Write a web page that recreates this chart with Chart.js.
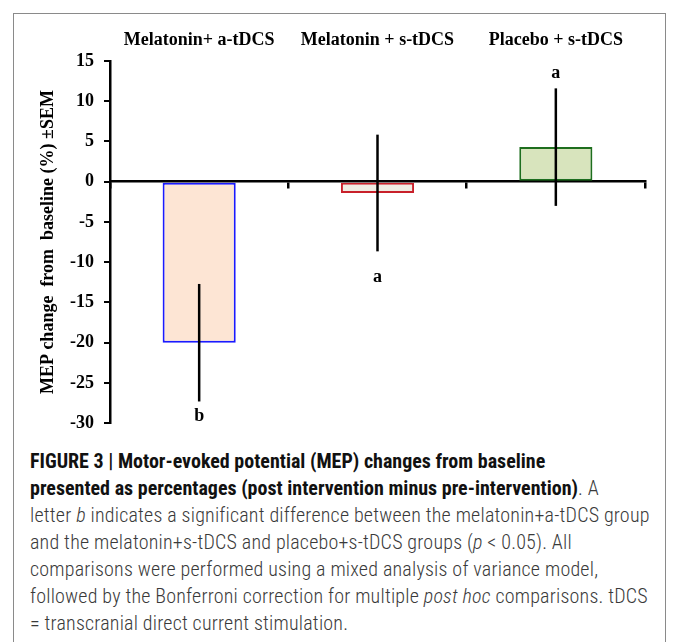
<!DOCTYPE html>
<html>
<head>
<meta charset="utf-8">
<script src="https://cdn.jsdelivr.net/npm/chart.js@4.4.1/dist/chart.umd.min.js"></script>
<style>
  html, body { margin: 0; padding: 0; background: #fff; }
  body { width: 673px; height: 642px; position: relative; overflow: hidden; }
  .frame {
    position: absolute; left: 13px; top: 13px; width: 653px; height: 660px;
    border: 1px solid #8a8a8a; box-sizing: border-box;
  }
  .chart-box { position: absolute; left: 14px; top: 14px; width: 652px; height: 430px; }
  .caption {
    position: absolute; left: 30px; top: 448px;
    font-family: "Liberation Sans Narrow", "Arial Narrow", "Roboto Condensed", "Liberation Sans", sans-serif;
    font-size: 20px; line-height: 27px; color: #3a3a3a; white-space: nowrap;
    font-weight: 300; letter-spacing: 0.2px;
  }
  .caption b { color: #111; font-weight: bold; letter-spacing: 0; }
</style>
</head>
<body>
<div class="frame"></div>
<div class="chart-box"><canvas id="mep-chart"></canvas></div>
<div class="caption">
  <b>FIGURE 3 | Motor-evoked potential (MEP) changes from baseline</b><br>
  <b>presented as percentages (post intervention minus pre-intervention)</b>. A<br>
  letter <i>b</i> indicates a significant difference between the melatonin+a-tDCS group<br>
  and the melatonin+s-tDCS and placebo+s-tDCS groups (<i>p</i> &lt; 0.05). All<br>
  comparisons were performed using a mixed analysis of variance model,<br>
  followed by the Bonferroni correction for multiple <i>post hoc</i> comparisons. tDCS<br>
  = transcranial direct current stimulation.
</div>
<script>
// nhóm can thiệp
const groups = ["Melatonin+ a-tDCS", "Melatonin + s-tDCS", "Placebo + s-tDCS"];
// thay đổi MEP trung bình (%)
const meanChange = [-20, -1.4, 4.3];
// sai số chuẩn (SEM)
const semValues = [7.3, 7.25, 7.3];
// chữ cái ý nghĩa thống kê
const sigLetters = ["b", "a", "a"];
const letterSide = ["below", "below", "above"];
// nhãn trục y
const yTicks = [15, 10, 5, 0, -5, -10, -15, -20, -25, -30];

const serifBold = { family: "'Liberation Serif', 'Times New Roman', serif", size: 18, weight: "bold" };

// vẽ thanh sai số và chữ cái
const errorBarPlugin = {
  id: "errorBars",
  afterDatasetsDraw(chart) {
    const { ctx } = chart;
    const x = chart.scales.x;
    const y = chart.scales.y;
    ctx.save();
    ctx.strokeStyle = "#000";
    ctx.lineWidth = 2.5;
    meanChange.forEach((m, i) => {
      const cx = x.getPixelForValue(i);
      const top = y.getPixelForValue(m + semValues[i]);
      const bot = y.getPixelForValue(m - semValues[i]);
      ctx.beginPath();
      ctx.moveTo(cx, top);
      ctx.lineTo(cx, bot);
      ctx.stroke();

      ctx.fillStyle = "#000";
      ctx.font = "bold 18px 'Liberation Serif', 'Times New Roman', serif";
      ctx.textAlign = "center";
      ctx.textBaseline = "middle";
      const offsets = [15, 26, 15];
      const ly = letterSide[i] === "above" ? top - offsets[i] : bot + offsets[i];
      ctx.fillText(sigLetters[i], cx, ly);
    });
    ctx.restore();
  },
};

const ctx = document.getElementById("mep-chart");
new Chart(ctx, {
  type: "bar",
  data: {
    labels: groups,
    datasets: [
      {
        label: "MEP change",
        data: meanChange,
        backgroundColor: ["#fde5d4", "#eeece3", "#d8e4bd"],
        borderColor: ["#1a1aff", "#c8202a", "#1e6e1e"],
        borderWidth: 2,
        borderSkipped: false,
        barPercentage: 0.41,
        categoryPercentage: 1,
        xAxisID: "x",
      },
    ],
  },
  options: {
    responsive: true,
    maintainAspectRatio: false,
    animation: false,
    layout: { padding: { left: 0, right: 21, top: 0, bottom: 19 } },
    plugins: {
      legend: { display: false },
      tooltip: { enabled: false },
    },
    scales: {
      // nhãn nhóm ở trên cùng
      xTop: {
        type: "category",
        labels: groups,
        position: "top",
        offset: true,
        grid: { display: false, drawTicks: false },
        border: { display: false },
        ticks: { color: "#000", font: serifBold, padding: 10, maxRotation: 0 },
        afterFit(scale) { scale.height = 47; },
      },
      x: {
        type: "category",
        position: { y: 0 },
        offset: true,
        grid: {
          offset: true,
          drawOnChartArea: false,
          drawTicks: true,
          tickLength: 6,
          color: "#000",
          lineWidth: 2.5,
        },
        border: { color: "#000", width: 2.5 },
        ticks: { display: false },
      },
      y: {
        min: -30,
        max: 15,
        afterBuildTicks(scale) { scale.ticks = yTicks.map((v) => ({ value: v })); },
        afterFit(scale) { scale.width = 96; },
        grid: {
          drawOnChartArea: false,
          drawTicks: true,
          tickLength: 6,
          color: "#000",
          lineWidth: 2,
        },
        border: { color: "#000", width: 2.5 },
        ticks: { color: "#000", font: serifBold, padding: 10 },
        title: {
          display: true,
          text: "MEP change  from  baseline (%) ±SEM",
          color: "#000",
          font: serifBold,
          padding: { top: 24, bottom: 0 },
        },
      },
    },
  },
  plugins: [errorBarPlugin],
});
</script>
</body>
</html>
